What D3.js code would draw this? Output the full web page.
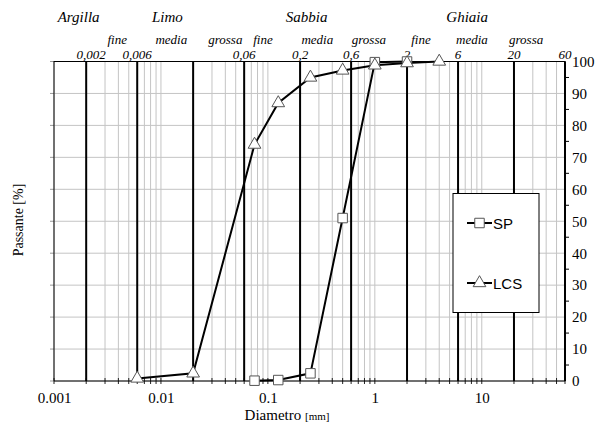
<!DOCTYPE html>
<meta charset="utf-8">
<style>
	body{margin:0;background:#fff;}
</style>
<svg width="603" height="424"></svg>
<script src="https://cdn.jsdelivr.net/npm/d3@7"></script>
<script>
	// sieve sizes (mm) and percent passing
	var spD = [0.075, 0.125, 0.25, 0.5, 1, 2];
	var spP = [0.1, 0.3, 2.4, 51, 99.8, 100];
	var lcsD = [0.006, 0.02, 0.075, 0.125, 0.25, 0.5, 1, 2, 4];
	var lcsP = [0.8, 2.4, 74, 87, 95, 97.2, 98.8, 99.5, 100];

	// class boundaries and their labels on top
	var bounds = [0.002, 0.006, 0.02, 0.06, 0.2, 0.6, 2, 6, 20, 60];
	var boundLabels = ["0,002", "0,006", "", "0,06", "0,2", "0,6", "2", "6", "20", "60"];
	var classNames = ["Argilla", "Limo", "Sabbia", "Ghiaia"];
	var classAt = [0.0017, 0.0115, 0.23, 7.3];
	var subNames = ["fine", "media", "grossa", "fine", "media", "grossa", "fine", "media", "grossa"];
	var subAt = [0.0039, 0.0125, 0.04, 0.09, 0.29, 0.88, 2.7, 8.1, 26];

	var xTicks = [0.001, 0.01, 0.1, 1, 10];
	var yTicks = d3.range(0, 101, 10);

	var serif = "Liberation Serif";
	var sans = "Liberation Sans";

	var svg = d3.select("svg");
	var x = d3.scaleLog().domain([0.001, 60]).range([54, 565]);
	var y = d3.scaleLinear().domain([0, 100]).range([381, 61.5]);

	// minor log values
	var minors = [];
	[0.001, 0.01, 0.1, 1, 10].forEach(function(d){
		for (var k = 1; k < 10; k++) { var v = d * k; if (v <= 60) minors.push(v); }
	});

	var g = svg.append("g");
	g.selectAll("line.vg").data(minors).enter().append("line")
		.attr("x1", function(d){return x(d)}).attr("x2", function(d){return x(d)})
		.attr("y1", y(0)).attr("y2", y(100))
		.attr("stroke", "#c4c4c4").attr("stroke-width", 1);
	g.selectAll("line.hg").data(yTicks).enter().append("line")
		.attr("x1", x(0.001)).attr("x2", x(60))
		.attr("y1", function(d){return y(d)}).attr("y2", function(d){return y(d)})
		.attr("stroke", "#c4c4c4").attr("stroke-width", 1);

	// bottom minor ticks
	g.selectAll("line.bt").data(minors).enter().append("line")
		.attr("x1", function(d){return x(d)}).attr("x2", function(d){return x(d)})
		.attr("y1", y(0) - 3).attr("y2", y(0) + 3)
		.attr("stroke", "#222").attr("stroke-width", 1);

	// left ticks
	g.selectAll("line.lt").data(yTicks).enter().append("line")
		.attr("x1", x(0.001) - 4).attr("x2", x(0.001))
		.attr("y1", function(d){return y(d)}).attr("y2", function(d){return y(d)})
		.attr("stroke", "#999");

	// thick boundary lines
	g.selectAll("line.bd").data(bounds.slice(0, -1)).enter().append("line")
		.attr("x1", function(d){return x(d)}).attr("x2", function(d){return x(d)})
		.attr("y1", y(0)).attr("y2", y(100))
		.attr("stroke", "#000").attr("stroke-width", 2);

	// frame
	g.append("rect").attr("x", x(0.001)).attr("y", y(100))
		.attr("width", x(60) - x(0.001)).attr("height", y(0) - y(100))
		.attr("fill", "none").attr("stroke", "#000").attr("stroke-width", 1);
	g.append("line").attr("x1", x(60)).attr("x2", x(60)).attr("y1", y(0)).attr("y2", y(100))
		.attr("stroke", "#000").attr("stroke-width", 2);

	// right axis
	var ya = svg.append("g").attr("transform", "translate(" + x(60) + ",0)")
		.call(d3.axisRight(y).tickValues(yTicks).tickSize(0).tickPadding(7));
	ya.select(".domain").remove();
	ya.attr("font-family", null).attr("font-size", null);
	ya.selectAll("text").style("font-size", "15px").style("font-family", serif).attr("fill", "#000");
	svg.selectAll("line.rt").data(d3.range(5, 100, 10)).enter().append("line")
		.attr("x1", x(60)).attr("x2", x(60) + 4)
		.attr("y1", function(d){return y(d)}).attr("y2", function(d){return y(d)})
		.attr("stroke", "#000");

	// bottom axis
	var xa = svg.append("g").attr("transform", "translate(0," + y(0) + ")")
		.call(d3.axisBottom(x).tickValues(xTicks).tickSize(0).tickPadding(11)
			.tickFormat(function(d){return String(d)}));
	xa.select(".domain").remove();
	xa.attr("font-family", null).attr("font-size", null);
	xa.selectAll("text").style("font-size", "15px").style("font-family", serif).attr("fill", "#000");

	// axis titles
	var xt = svg.append("text").attr("x", 287).attr("y", 420).attr("text-anchor", "middle")
		.style("font-size", "15px").style("font-family", serif);
	xt.append("tspan").text("Diametro ");
	xt.append("tspan").style("font-size", "11px").text("[mm]");
	svg.append("text").attr("transform", "translate(23,220) rotate(-90)")
		.attr("text-anchor", "middle").style("font-size", "14px").style("font-family", serif).text("Passante [%]");

	// top labels
	svg.selectAll("text.bl").data(bounds).enter().append("text")
		.attr("x", function(d){return x(d)}).attr("dx", function(d, i){return i === 0 ? 5 : 0}).attr("y", 59)
		.attr("text-anchor", "middle").style("font-size", "13px").style("font-style", "italic").style("font-family", serif)
		.text(function(d, i){return boundLabels[i]});
	svg.selectAll("text.sn").data(subNames).enter().append("text")
		.attr("x", function(d, i){return x(subAt[i])}).attr("y", 44)
		.attr("text-anchor", "middle").style("font-size", "13px").style("font-style", "italic").style("font-family", serif)
		.text(function(d){return d});
	svg.selectAll("text.cn").data(classNames).enter().append("text")
		.attr("x", function(d, i){return x(classAt[i])}).attr("y", 22)
		.attr("text-anchor", "middle").style("font-size", "15px").style("font-style", "italic").style("font-family", serif)
		.text(function(d){return d});

	// series
	var line = d3.line().x(function(d){return x(d[0])}).y(function(d){return y(d[1])});
	var sp = spD.map(function(d, i){return [d, spP[i]]});
	var lcs = lcsD.map(function(d, i){return [d, lcsP[i]]});

	svg.append("path").datum(sp).attr("d", line).attr("fill", "none").attr("stroke", "#000").attr("stroke-width", 2);
	svg.append("path").datum(lcs).attr("d", line).attr("fill", "none").attr("stroke", "#000").attr("stroke-width", 2);

	var sq = d3.symbol().type(d3.symbolSquare).size(90);
	var tri = d3.symbol().type(d3.symbolTriangle).size(70);

	svg.selectAll("path.sp").data(sp).enter().append("path")
		.attr("d", sq).attr("transform", function(d){return "translate(" + x(d[0]) + "," + y(d[1]) + ")"})
		.attr("fill", "#fff").attr("stroke", "#555").attr("stroke-width", 1);
	svg.selectAll("path.lcs").data(lcs).enter().append("path")
		.attr("d", tri).attr("transform", function(d){return "translate(" + x(d[0]) + "," + y(d[1]) + ")"})
		.attr("fill", "#fff").attr("stroke", "#555").attr("stroke-width", 1);

	// legend
	var lg = svg.append("g");
	lg.append("rect").attr("x", 453).attr("y", 193.5).attr("width", 86).attr("height", 119)
		.attr("fill", "#fff").attr("stroke", "#000").attr("stroke-width", 1);
	[["SP", sq, 223], ["LCS", tri, 283]].forEach(function(e){
		lg.append("line").attr("x1", 467).attr("x2", 492).attr("y1", e[2]).attr("y2", e[2])
			.attr("stroke", "#000").attr("stroke-width", 2);
		lg.append("path").attr("d", e[1]).attr("transform", "translate(479.5," + e[2] + ")")
			.attr("fill", "#fff").attr("stroke", "#555");
		lg.append("text").attr("x", 493).attr("y", e[2] + 5.5)
			.style("font-family", sans).style("font-size", "15px").text(e[0]);
	});
</script>
